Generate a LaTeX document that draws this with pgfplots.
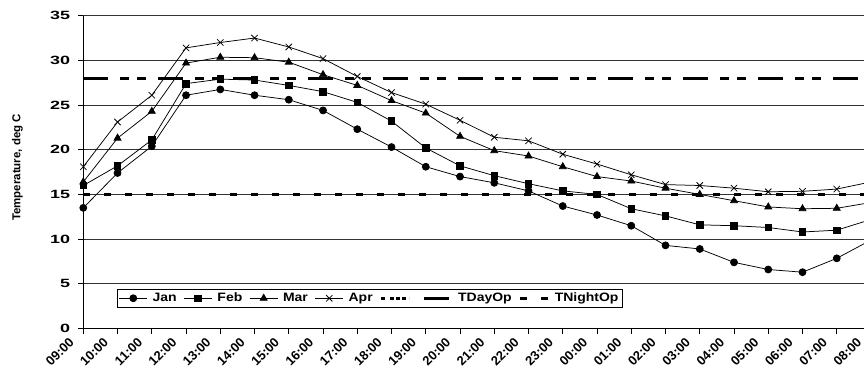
\documentclass[border=0pt]{standalone}
\usepackage{pgfplots}
\pgfplotsset{compat=1.18}
\usepackage{pgfplotstable}
\usepackage{fontspec}
\setmainfont{Liberation Sans}
\newfontfamily\wide{Liberation Sans}[FakeStretch=1.5]
\newfontfamily\legfont{Liberation Sans}[FakeStretch=1.15]

\pgfplotstableread{
i  Jan   Feb   Mar   Apr
0  13.5  16.0  16.4  18.1
1  17.4  18.2  21.3  23.1
2  20.4  21.1  24.3  26.1
3  26.1  27.4  29.7  31.4
4  26.75 27.9  30.35 32.0
5  26.1  27.8  30.3  32.5
6  25.6  27.2  29.8  31.5
7  24.4  26.5  28.4  30.2
8  22.3  25.3  27.2  28.2
9  20.3  23.2  25.5  26.4
10 18.1  20.2  24.1  25.1
11 17.0  18.2  21.5  23.3
12 16.3  17.1  19.9  21.4
13 15.4  16.2  19.3  21.0
14 13.7  15.4  18.1  19.5
15 12.7  15.0  17.0  18.4
16 11.5  13.4  16.5  17.2
17 9.3   12.6  15.7  16.1
18 8.9   11.6  15.0  16.0
19 7.4   11.5  14.3  15.7
20 6.6   11.3  13.6  15.3
21 6.3   10.8  13.4  15.35
22 7.85  11.0  13.45 15.6
23 9.9   12.2  14.1  16.4
}\temps

\begin{document}
\begin{tikzpicture}
\begin{axis}[
  name=ax,
  width=787.7bp, height=312.8bp, scale only axis,
  xmin=0, xmax=23, ymin=0, ymax=35,
  axis x line*=bottom, axis y line*=left,
  axis line style={-, black, line width=0.9bp},
  xtick={0,...,23},
  xticklabels={09:00,10:00,11:00,12:00,13:00,14:00,15:00,16:00,17:00,18:00,19:00,20:00,21:00,22:00,23:00,00:00,01:00,02:00,03:00,04:00,05:00,06:00,07:00,08:00},
  ytick={0,5,...,35},
  ymajorgrids,
  grid style={black!80, line width=0.7bp},
  tick align=outside,
  major tick length=5bp,
  tick style={black, line width=0.8bp},
  xticklabel style={font=\bfseries\fontsize{13}{15}\selectfont, xshift=-11bp, yshift=-6bp, rotate=45, anchor=east, inner sep=1bp},
  yticklabel style={font=\wide\bfseries\fontsize{12}{14}\selectfont, /pgf/number format/assume math mode=true, inner sep=1bp, xshift=-7bp},
  ylabel={Temperature, deg C},
  ylabel style={font=\bfseries\fontsize{11.5}{13}\selectfont, at={(axis description cs:-0.0835,0.515)}, anchor=center},
  legend columns=7,
  legend image code/.code={\draw[mark repeat=2, mark phase=2, #1] plot coordinates {(0bp,0bp) (14bp,0bp) (28bp,0bp)};},
  legend style={at={(rel axis cs:0.0428,0.0655)}, anchor=south west, draw=black, line width=0.8bp, fill=white,
    font=\legfont\bfseries\fontsize{12.2}{14}\selectfont, inner xsep=1.5bp, inner ysep=2.2bp,
    /tikz/every even column/.append style={column sep=5bp},
    /tikz/every odd column/.append style={column sep=3bp}},
  every axis plot/.append style={black, line width=0.75bp},
]
\addplot[mark=*, mark size=3.5bp, mark options={solid, fill=black}] table[x=i, y=Jan] {\temps};
\addlegendentry{Jan}
\addplot[mark=square*, mark size=3.3bp, mark options={solid, fill=black}] table[x=i, y=Feb] {\temps};
\addlegendentry{Feb}
\addplot[mark=triangle*, mark size=4bp, mark options={solid, fill=black}] table[x=i, y=Mar] {\temps};
\addlegendentry{Mar}
\addplot[mark=x, mark size=4.5bp, mark options={solid}] table[x=i, y=Apr] {\temps};
\addlegendentry{Apr}
\addlegendimage{black, line width=2.5bp, dash pattern=on 4bp off 5bp on 4bp off 2bp on 4bp off 2bp on 4bp off 3bp}
\addlegendentry{}
\addplot[line width=3bp, dash pattern=on 25bp off 12bp on 9bp off 8bp on 9bp off 12bp] coordinates {(0,28) (23,28)};
\addlegendentry{TDayOp}
\addplot[line width=3bp, dash pattern=on 7bp off 14bp] coordinates {(0,15) (23,15)};
\addlegendentry{TNightOp}
\end{axis}
\pgfresetboundingbox
\path[use as bounding box] ([shift={(-83.3bp,-45.5bp)}]ax.south west) rectangle +(864bp,374bp);
\end{tikzpicture}
\end{document}
